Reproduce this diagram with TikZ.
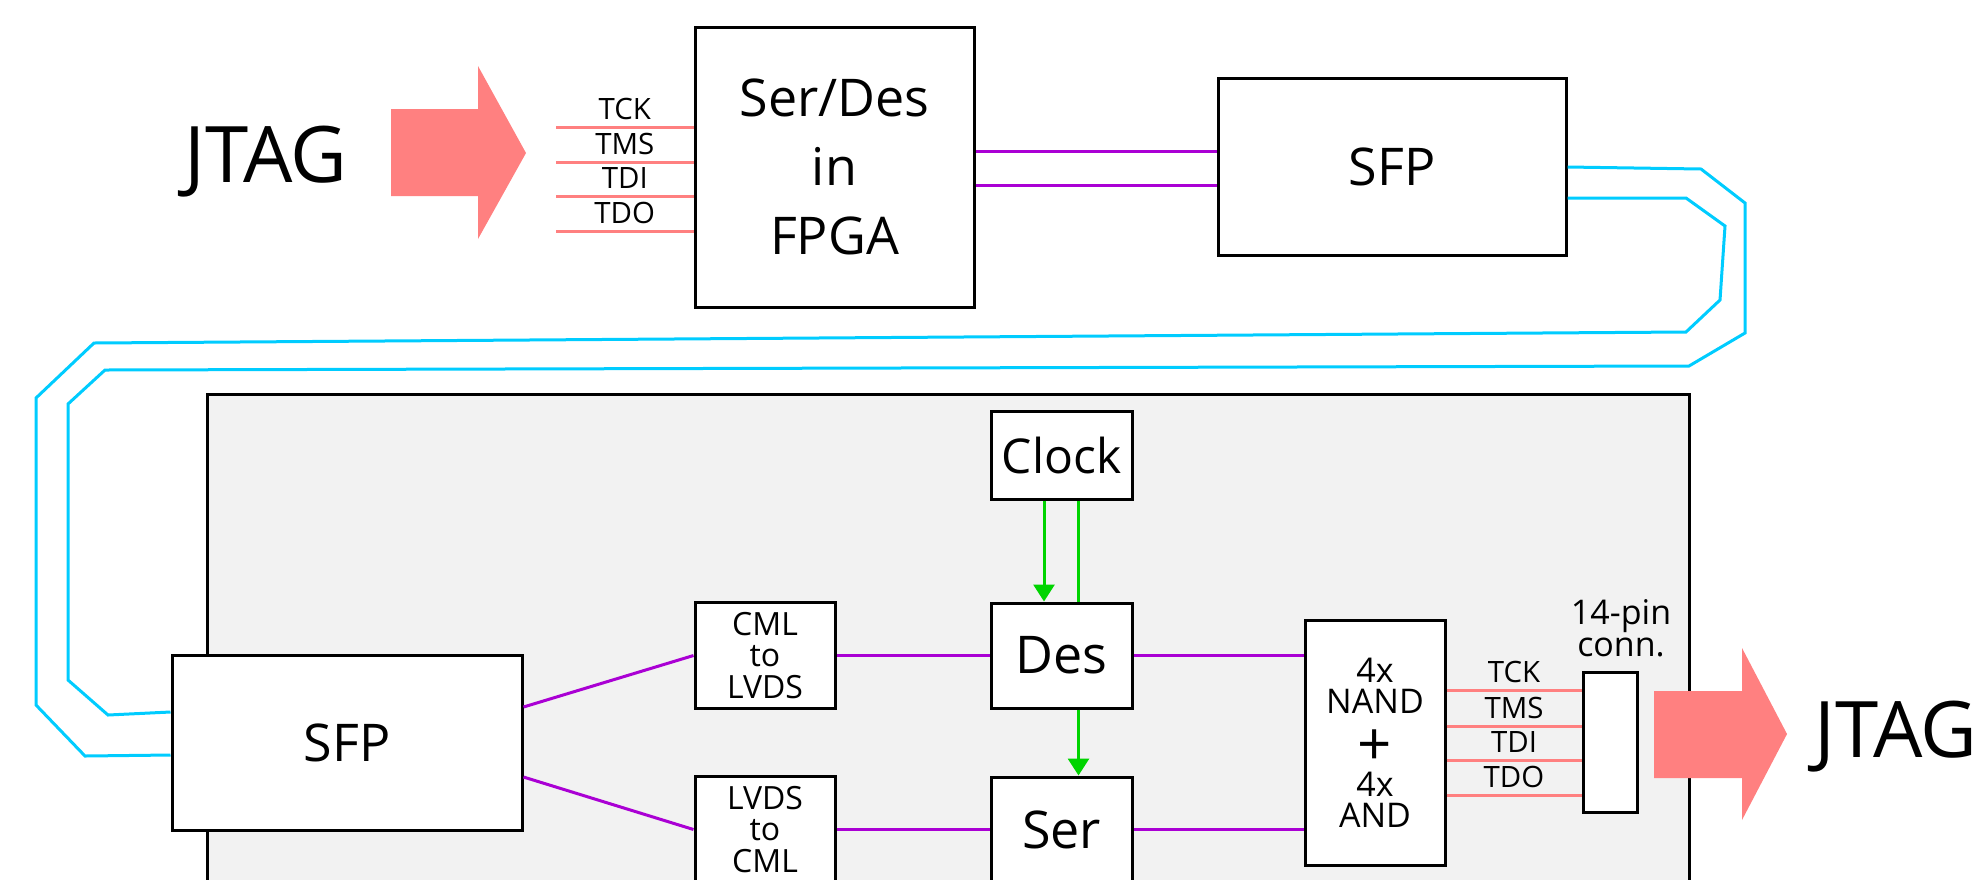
\documentclass[tikz,border=0pt]{standalone}
\usepackage{fontspec}
\setmainfont{Open Sans}
\usetikzlibrary{positioning, arrows.meta}
\definecolor{jtagRed}{RGB}{255, 128, 128}
\definecolor{lvdsPurple}{RGB}{170, 0, 212}
\definecolor{fiberCyan}{RGB}{0, 204, 255}
\definecolor{clockGreen}{RGB}{0, 212, 0}
\definecolor{boardGrey}{RGB}{242, 242, 242}

\begin{document}
\begin{tikzpicture}[x=0.5pt, y=-0.5pt, >={Triangle[width=10.5pt, length=8.5pt]},
    block/.style={draw=black, fill=white, line width=1.5pt, inner sep=0pt, align=center, font=\fontsize{26}{34.5}\selectfont},
    smallblock/.style={block, minimum width=70pt, minimum height=53pt, font=\fontsize{16}{15.75}\selectfont},
    siglabel/.style={above, inner sep=3pt, font=\fontsize{14.7}{16}\selectfont},
    sig/.style={draw=jtagRed, line width=1.5pt},
    lvds/.style={draw=lvdsPurple, line width=1.5pt},
    fiber/.style={draw=fiberCyan, line width=1.5pt},
    clk/.style={draw=clockGreen, line width=1.5pt}]
    \useasboundingbox (0,0) rectangle (1984,879);
    \clip (0,0) rectangle (1984,879);

    % board
    \draw[fill=boardGrey, line width=1.5pt] (207,394) rectangle (1689,1000);

    % host side
    \node[anchor=base, font=\fontsize{39}{42}\selectfont] (jtagin) at (266,182) {JTAG};
    \fill[jtagRed] (391,109) -- (478,109) -- (478,66) -- (526,153) -- (478,239) -- (478,196) -- (391,196) -- cycle;
    \node[block, minimum width=139.5pt, minimum height=140pt] (serdes) at (834.5,167) {Ser/Des\\in\\FPGA};
    \node[block, minimum width=174pt, minimum height=88.5pt, right=120.5pt of serdes] (sfpA) {SFP};

    \coordinate (tck) at (556,127);
    \coordinate (tms) at (556,162);
    \coordinate (tdi) at (556,196);
    \coordinate (tdo) at (556,231);
    \draw[sig] (tck) -- node[siglabel] {TCK} (tck -| serdes.west);
    \draw[sig] (tms) -- node[siglabel] {TMS} (tms -| serdes.west);
    \draw[sig] (tdi) -- node[siglabel] {TDI} (tdi -| serdes.west);
    \draw[sig] (tdo) -- node[siglabel] {TDO} (tdo -| serdes.west);

    \draw[lvds] (serdes.east |- 0,151) -- (sfpA.west |- 0,151);
    \draw[lvds] (serdes.east |- 0,185) -- (sfpA.west |- 0,185);

    % board side
    \node[block, minimum width=175pt, minimum height=87.5pt] (sfpB) at (347,742.5) {SFP};
    \node[block, minimum width=70.5pt, minimum height=44pt, font=\fontsize{24}{30}\selectfont] (clock) at (1061.5,455) {Clock};
    \node[block, minimum width=70.5pt, minimum height=52.5pt, below=50.5pt of clock] (des) {Des};
    \node[block, minimum width=70.5pt, minimum height=52.5pt, below=33pt of des] (ser) {Ser};
    \node[smallblock, left=76.5pt of des] (cml2lvds) {CML\\to\\LVDS};
    \node[smallblock, left=76.5pt of ser] (lvds2cml) {LVDS\\to\\CML};
    \node[block, minimum width=70pt, minimum height=122.5pt, font=\fontsize{17}{15.5}\selectfont] (gates) at (1375,742.5) {4x\\NAND\\[7pt]{\fontsize{30}{15.5}\selectfont+}\\4x\\AND};
    \node[block, minimum width=27pt, minimum height=70pt] (conn) at (1610,742) {};
    \node[align=center, inner sep=0pt, font=\fontsize{17}{16}\selectfont] (connlabel) at (1621,628) {14-pin\\conn.};

    \draw[lvds] (sfpB.east |- 0,707) -- (cml2lvds.west);
    \draw[lvds] (sfpB.east |- 0,777) -- (lvds2cml.west);
    \draw[lvds] (cml2lvds) -- (des);
    \draw[lvds] (lvds2cml) -- (ser);
    \draw[lvds] (des.east) -- (des.east -| gates.west);
    \draw[lvds] (ser.east) -- (ser.east -| gates.west);

    \draw[clk, ->] ([xshift=-8.75pt]clock.south) -- ([xshift=-8.75pt]des.north);
    \draw[clk] ([xshift=8.5pt]clock.south) -- ([xshift=8.5pt]des.north);
    \draw[clk, ->] ([xshift=8.5pt]des.south) -- ([xshift=8.5pt]ser.north);

    \draw[sig] (gates.east |- 0,690) -- node[siglabel] {TCK} (conn.west |- 0,690);
    \draw[sig] (gates.east |- 0,726) -- node[siglabel] {TMS} (conn.west |- 0,726);
    \draw[sig] (gates.east |- 0,760) -- node[siglabel] {TDI} (conn.west |- 0,760);
    \draw[sig] (gates.east |- 0,795) -- node[siglabel] {TDO} (conn.west |- 0,795);

    \fill[jtagRed] (1654,691) -- (1742,691) -- (1742,648) -- (1787,734) -- (1742,820) -- (1742,778) -- (1654,778) -- cycle;
    \node[anchor=base west, inner sep=0pt, font=\fontsize{39}{42}\selectfont] (jtagout) at (1814,757) {JTAG};

    % fibre pair
    \draw[fiber] (sfpA.east) -- (1701,169) -- (1745,203) -- (1745,333) -- (1689,366) -- (105,370) -- (68,404) -- (68,680) -- (108,715) -- (sfpB.west |- 0,712);
    \draw[fiber] (sfpA.east |- 0,198) -- (1686,198) -- (1725,226) -- (1720,300) -- (1686,332) -- (94,343) -- (36,398) -- (36,705) -- (85,756) -- (sfpB.west |- 0,755);
\end{tikzpicture}
\end{document}
